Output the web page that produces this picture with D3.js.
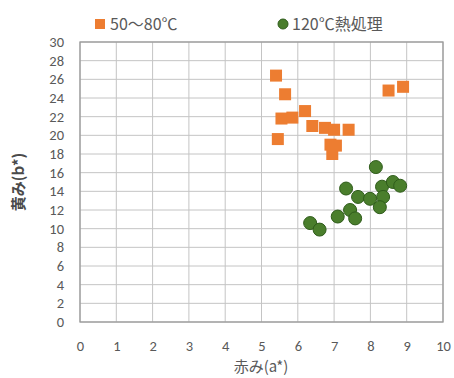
<!DOCTYPE html>
<html><head><meta charset="utf-8">
<script src="https://cdn.jsdelivr.net/npm/d3@7/dist/d3.min.js"></script>
<style>body{margin:0;background:#fff;}svg{display:block;font-family:"Noto Sans CJK JP","Noto Sans",sans-serif;}</style>
</head><body>
<script>
const xTicks = [0,1,2,3,4,5,6,7,8,9,10];
const yTicks = [0,2,4,6,8,10,12,14,16,18,20,22,24,26,28,30];
const seriesNames = ["50～80℃", "120℃熱処理"];
const lowTempA = [5.4, 5.65, 5.55, 5.85, 6.2, 6.4, 6.75, 7.0, 7.4, 5.45, 6.9, 7.05, 6.95, 8.5, 8.9];
const lowTempB = [26.4, 24.4, 21.8, 21.9, 22.6, 21.0, 20.8, 20.6, 20.6, 19.6, 19.0, 18.9, 18.0, 24.8, 25.2];
const heatA = [8.15, 7.33, 7.66, 7.99, 8.32, 8.62, 8.82, 8.35, 8.26, 7.44, 7.1, 7.58, 6.34, 6.6];
const heatB = [16.6, 14.3, 13.4, 13.2, 14.5, 15.0, 14.6, 13.4, 12.3, 12.0, 11.3, 11.1, 10.6, 9.9];

const W = 454, H = 378;
const svg = d3.select("body").append("svg").attr("width", W).attr("height", H);
const x = d3.scaleLinear().domain([0,10]).range([80, 443]);
const y = d3.scaleLinear().domain([0,30]).range([322, 42]);
const txt = "#595959";
const numFont = "Calibri, 'Liberation Sans', 'DejaVu Sans', sans-serif";

// gridlines
svg.append("g").selectAll("line").data(xTicks).join("line")
  .attr("x1", d=>x(d)).attr("x2", d=>x(d)).attr("y1", y(0)).attr("y2", y(30))
  .attr("stroke", "#c4c4c4").attr("stroke-width", 1);
svg.append("g").selectAll("line").data(yTicks).join("line")
  .attr("x1", x(0)).attr("x2", x(10)).attr("y1", d=>y(d)).attr("y2", d=>y(d))
  .attr("stroke", "#c4c4c4").attr("stroke-width", 1);
svg.append("rect").attr("x", x(0)).attr("y", y(30)).attr("width", x(10)-x(0)).attr("height", y(0)-y(30))
  .attr("fill", "none").attr("stroke", "#9a9a9a").attr("stroke-width", 1.3);

// axes
const xAxis = svg.append("g").attr("transform", `translate(0,${y(0)})`)
  .call(d3.axisBottom(x).tickValues(xTicks).tickSize(0).tickPadding(19));
xAxis.select(".domain").remove();
xAxis.selectAll("text").attr("fill", txt).style("font-size", "14.5px").style("font-family", numFont);
const yAxis = svg.append("g").attr("transform", `translate(${x(0)},0)`)
  .call(d3.axisLeft(y).tickValues(yTicks).tickSize(0).tickPadding(16));
yAxis.select(".domain").remove();
yAxis.selectAll("text").attr("fill", txt).style("font-size", "14.5px").style("font-family", numFont);

// axis titles
svg.append("text").attr("x", 261).attr("y", 372).attr("text-anchor", "middle")
  .attr("fill", txt).style("font-size", "15px").text("赤み(a*)");
svg.append("text").attr("transform", "translate(24,182) rotate(-90)").attr("text-anchor", "middle")
  .attr("fill", "#4a4a4a").style("font-size", "15px").style("font-weight", "bold").text("黄み(b*)");

// data
const orange = "#ED7D31", green = "#4A7E2C", greenDark = "#2F5C1B";
const low = lowTempA.map((a,i)=>({a, b: lowTempB[i]}));
const heat = heatA.map((a,i)=>({a, b: heatB[i]}));
const s = 12;
svg.append("g").selectAll("rect").data(low).join("rect")
  .attr("x", d=>x(d.a)-s/2).attr("y", d=>y(d.b)-s/2).attr("width", s).attr("height", s)
  .attr("fill", orange);
svg.append("g").selectAll("circle").data(heat).join("circle")
  .attr("cx", d=>x(d.a)).attr("cy", d=>y(d.b)).attr("r", 6.5)
  .attr("fill", green).attr("stroke", greenDark).attr("stroke-width", 1);

// legend
svg.append("rect").attr("x", 95).attr("y", 19).attr("width", 10).attr("height", 10).attr("fill", orange);
svg.append("text").attr("x", 110).attr("y", 30).attr("fill", txt).style("font-size", "16px").text(seriesNames[0]);
svg.append("circle").attr("cx", 283).attr("cy", 24).attr("r", 5).attr("fill", green).attr("stroke", greenDark);
svg.append("text").attr("x", 292).attr("y", 30).attr("fill", txt).style("font-size", "16px").text(seriesNames[1]);
</script>
</body></html>
